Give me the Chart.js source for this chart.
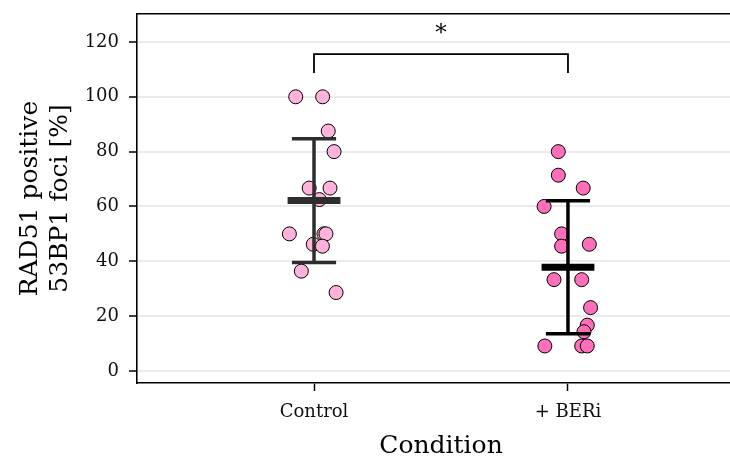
<!DOCTYPE html>
<html>
<head>
<meta charset="utf-8">
<script src="https://cdn.jsdelivr.net/npm/chart.js@4"></script>
<style>
  html, body { margin: 0; padding: 0; background: #ffffff; }
  #wrap { width: 730px; height: 458px; }
</style>
</head>
<body>
<div id="wrap"><canvas id="chart" width="730" height="458"></canvas></div>
<script>
// Conditions on the x axis (category positions 1 and 2)
const conditions = ['Control', '+ BERi'];
const yTicks = [0, 20, 40, 60, 80, 100, 120];

// Per-image percentages of RAD51-positive 53BP1 foci, with horizontal jitter positions
const controlValues = [100, 100, 87.5, 80, 66.7, 66.7, 62.5, 50, 50, 50, 46.2, 45.5, 36.4, 28.6];
const controlJitter = [0.928, 1.034, 1.056, 1.079, 0.981, 1.063, 1.021, 0.903, 1.039, 1.047, 0.997, 1.033, 0.950, 1.087];
const beriValues = [80, 71.4, 66.7, 60, 50, 45.5, 46.2, 33.3, 33.3, 23.1, 16.7, 14.3, 9.1, 9.1, 9.1];
const beriJitter = [1.962, 1.962, 2.060, 1.906, 1.975, 1.975, 2.084, 1.945, 2.054, 2.089, 2.076, 2.063, 1.909, 2.054, 2.076];

// Significance bracket between the groups
const bracketLow = 108.7;
const bracketHigh = 115.6;
const bracketLabel = '*';
const bracketLabelY = 122.8;

const xTitle = 'Condition';
const FONT = "'DejaVu Serif', serif";

function mean(a) { return a.reduce((s, v) => s + v, 0) / a.length; }
function sd(a) {
  const m = mean(a);
  return Math.sqrt(a.reduce((s, v) => s + (v - m) * (v - m), 0) / (a.length - 1));
}

function pts(xs, ys) { return ys.map((y, i) => ({ x: xs[i], y: y })); }

// Mean bar plus SD whiskers for one group
function summaryDatasets(pos, values, color) {
  const m = mean(values), s = sd(values);
  const meanHalf = 0.104, capHalf = 0.087;
  const base = { type: 'line', showLine: true, pointRadius: 0, borderColor: color, fill: false, order: 1 };
  return [
    Object.assign({}, base, { data: [{ x: pos, y: m - s }, { x: pos, y: m + s }], borderWidth: 3.5 }),
    Object.assign({}, base, { data: [{ x: pos - capHalf, y: m + s }, { x: pos + capHalf, y: m + s }], borderWidth: 3.5 }),
    Object.assign({}, base, { data: [{ x: pos - capHalf, y: m - s }, { x: pos + capHalf, y: m - s }], borderWidth: 3.5 }),
    Object.assign({}, base, { data: [{ x: pos - meanHalf, y: m }, { x: pos + meanHalf, y: m }], borderWidth: 7 })
  ];
}

const datasets = [
  {
    type: 'scatter', data: pts(controlJitter, controlValues), order: 2,
    backgroundColor: '#ffb3db', borderColor: '#000000', borderWidth: 1, pointRadius: 7
  },
  {
    type: 'scatter', data: pts(beriJitter, beriValues), order: 2,
    backgroundColor: '#ff6eb8', borderColor: '#000000', borderWidth: 1, pointRadius: 7
  },
  ...summaryDatasets(1, controlValues, '#2e2e2e'),
  ...summaryDatasets(2, beriValues, '#000000'),
  {
    type: 'line', showLine: true, pointRadius: 0, borderColor: '#000000', borderWidth: 1.8, fill: false, order: 1,
    data: [{ x: 1, y: bracketLow }, { x: 1, y: bracketHigh }, { x: 2, y: bracketHigh }, { x: 2, y: bracketLow }]
  }
];

// Star above the bracket and the x-axis title, centred between the two groups
const labelPlugin = {
  id: 'extraLabels',
  afterDraw(chart) {
    const { ctx, scales } = chart;
    const mid = scales.x.getPixelForValue(1.5);
    ctx.save();
    ctx.fillStyle = '#000';
    ctx.textAlign = 'center';
    ctx.textBaseline = 'middle';
    ctx.font = "23px " + FONT;
    ctx.fillText(bracketLabel, mid, scales.y.getPixelForValue(bracketLabelY));
    ctx.font = "25px " + FONT;
    ctx.fillText(xTitle, mid, scales.x.bottom - 12);
    ctx.restore();
  }
};

function noPad(s) { s.paddingLeft = 0; s.paddingRight = 0; s.paddingTop = 0; s.paddingBottom = 0; }

new Chart(document.getElementById('chart'), {
  type: 'scatter',
  data: { datasets },
  options: {
    responsive: false,
    animation: false,
    devicePixelRatio: 1,
    layout: { padding: 0, autoPadding: false },
    plugins: { legend: { display: false }, tooltip: { enabled: false } },
    scales: {
      x: {
        type: 'linear', position: 'bottom', min: 0.303, max: 2.638,
        afterBuildTicks: (s) => { s.ticks = [{ value: 1 }, { value: 2 }]; },
        afterFit: (s) => { s.height = 75; noPad(s); },
        ticks: {
          callback: (v) => conditions[Math.round(v) - 1],
          font: { family: FONT, size: 18 }, color: '#111', padding: 11, maxRotation: 0, autoSkip: false
        },
        grid: { drawOnChartArea: false, drawTicks: true, tickLength: 8, tickColor: '#000', tickWidth: 1.5 },
        border: { display: true, color: '#000', width: 1.6 }
      },
      xTop: {
        type: 'linear', position: 'top', min: 0.303, max: 2.638,
        afterFit: (s) => { s.height = 14; noPad(s); },
        ticks: { display: false },
        grid: { display: false },
        border: { display: true, color: '#000', width: 1.6 }
      },
      y: {
        type: 'linear', min: -4.4, max: 130.2,
        afterBuildTicks: (s) => { s.ticks = yTicks.map(v => ({ value: v })); },
        afterFit: (s) => { s.width = 137; noPad(s); },
        ticks: { font: { family: FONT, size: 18 }, color: '#111', padding: 10 },
        grid: { color: '#ebebeb', lineWidth: 2, tickLength: 8, tickColor: '#000', tickWidth: 1.5 },
        border: { display: true, color: '#000', width: 1.6 },
        title: {
          display: true, text: ['RAD51 positive', '53BP1 foci [%]'],
          font: { family: FONT, size: 25 }, color: '#000', padding: { top: 15, bottom: 0 }
        }
      }
    }
  },
  plugins: [labelPlugin]
});
</script>
</body>
</html>
